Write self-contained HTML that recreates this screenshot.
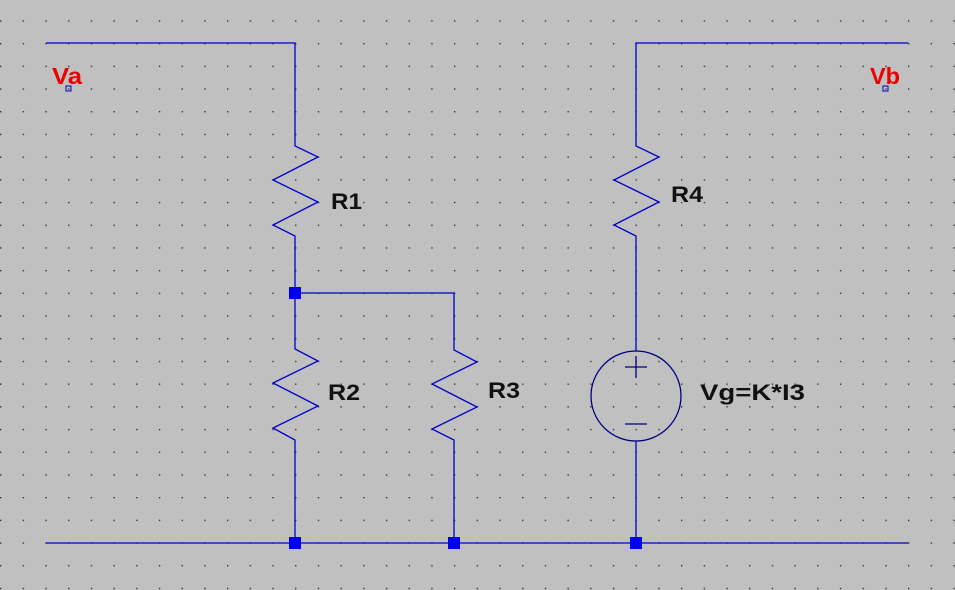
<!DOCTYPE html>
<html><head><style>
html,body{margin:0;padding:0;background:#c0c0c0;}
svg{display:block}
text{font-family:"Liberation Sans",Arial,sans-serif;font-weight:bold;}
</style></head><body>
<svg width="955" height="590" viewBox="0 0 955 590" xmlns="http://www.w3.org/2000/svg">
<defs>
<pattern id="g" x="0" y="-2.4" width="22.7" height="22.7" patternUnits="userSpaceOnUse">
<rect x="0" y="0" width="1.3" height="1.3" fill="#222"/>
</pattern>
</defs>
<rect width="955" height="590" fill="#c0c0c0"/>
<rect width="955" height="590" fill="url(#g)"/>
<g stroke="#0000cc" stroke-width="1.3" fill="none">
<polyline points="46,43 295,43 295,145"/>
<polyline points="295,145 295,146 318,157 273,180 318,202 273,225 295,236 295,349 318,361 273,383 318,406 273,428 295,440 295,543"/>
<polyline points="295,293 454,293 454,350 477,362 432,384 477,407 432,429 454,440 454,543"/>
<polyline points="908,43 636,43 636,146 659,157 614,180 659,202 614,225 636,236 636,351"/>
<line x1="636" y1="441" x2="636" y2="543"/>
<line x1="46" y1="543" x2="908" y2="543"/>
</g>
<g stroke="#000080" stroke-width="1.3" fill="none">
<circle cx="636" cy="396" r="45"/>
<line x1="625" y1="367" x2="647" y2="367"/><line x1="636" y1="356" x2="636" y2="378"/>
<line x1="625" y1="424" x2="647" y2="424"/>
</g>
<g fill="#0000ee">
<rect x="289" y="287" width="12" height="12"/>
<rect x="289" y="537" width="12" height="12"/>
<rect x="448" y="537" width="12" height="12"/>
<rect x="630" y="537" width="12" height="12"/>
</g>
<rect x="66" y="86" width="5" height="5" fill="none" stroke="#0000cc" stroke-width="1"/>
<rect x="883" y="86" width="5" height="5" fill="none" stroke="#0000cc" stroke-width="1"/>
<g font-size="22" fill="#111">
<text x="331" y="209" textLength="31" lengthAdjust="spacingAndGlyphs">R1</text>
<text x="328" y="400" textLength="32" lengthAdjust="spacingAndGlyphs">R2</text>
<text x="488" y="398" textLength="32" lengthAdjust="spacingAndGlyphs">R3</text>
<text x="671" y="202" textLength="32" lengthAdjust="spacingAndGlyphs">R4</text>
<text x="700" y="400" textLength="105" lengthAdjust="spacingAndGlyphs">Vg=K*I3</text>
</g>
<g font-size="23" fill="#ee0000">
<text x="52" y="84" textLength="30" lengthAdjust="spacingAndGlyphs">Va</text>
<text x="870" y="84" textLength="30" lengthAdjust="spacingAndGlyphs">Vb</text>
</g>
</svg>
</body></html>
